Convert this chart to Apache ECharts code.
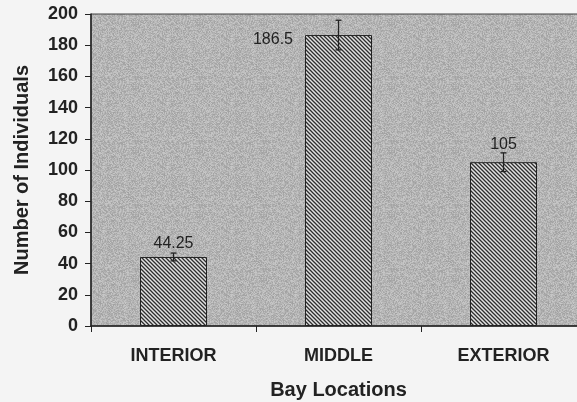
<!DOCTYPE html>
<html>
<head>
<meta charset="utf-8">
<script src="https://cdn.jsdelivr.net/npm/echarts@6/dist/echarts.min.js"></script>
<style>
html,body{margin:0;padding:0;background:#f4f4f4;}
#c{width:577px;height:402px;}
</style>
</head>
<body>
<div id="c"></div>
<script>
var categories = ['INTERIOR', 'MIDDLE', 'EXTERIOR'];
var means = [44.25, 186.5, 105];
var errors = [2.5, 9.5, 6];
var valueLabels = ['44.25', '186.5', '105'];
var yTicks = [0, 20, 40, 60, 80, 100, 120, 140, 160, 180, 200];

function hatch() {
  var s = 4;
  var c = document.createElement('canvas');
  c.width = s; c.height = s;
  var g = c.getContext('2d');
  g.fillStyle = '#e2e2e2';
  g.fillRect(0, 0, s, s);
  g.strokeStyle = '#2e2e2e';
  g.lineWidth = 1.3;
  g.beginPath();
  g.moveTo(-2, -2); g.lineTo(s + 2, s + 2);
  g.moveTo(-2, s - 2); g.lineTo(2, s + 2);
  g.moveTo(s - 2, -2); g.lineTo(s + 2, 2);
  g.stroke();
  return c;
}

// deterministic speckle texture for the plot background (style only)
function speckle() {
  var s = 64;
  var c = document.createElement('canvas');
  c.width = s; c.height = s;
  var g = c.getContext('2d');
  var img = g.createImageData(s, s);
  for (var y = 0; y < s; y++) {
    for (var x = 0; x < s; x++) {
      var h = Math.sin(x * 12.9898 + y * 78.233) * 43758.5453;
      h = h - Math.floor(h);
      var v = Math.round(180 + (h - 0.5) * 40);
      var k = (y * s + x) * 4;
      img.data[k] = v; img.data[k + 1] = v; img.data[k + 2] = v; img.data[k + 3] = 255;
    }
  }
  g.putImageData(img, 0, 0);
  return c;
}

var chart = echarts.init(document.getElementById('c'), null, {renderer: 'canvas'});
var font = 'Liberation Sans, Arial, sans-serif';

var barData = means.map(function (v, i) {
  var lab = {show: true, formatter: valueLabels[i]};
  if (i === 1) {
    lab.position = [-12, 5];
    lab.align = 'right';
    lab.verticalAlign = 'middle';
  } else {
    lab.position = 'top';
    lab.distance = i === 0 ? 5 : 10;
  }
  return {value: v, label: lab};
});

var errData = means.map(function (v, i) { return [i, v - errors[i], v + errors[i]]; });

chart.setOption({
  backgroundColor: '#f4f4f4',
  animation: false,
  grid: {
    left: 91, top: 14, width: 495, bottom: 76,
    outerBoundsMode: 'none',
    containLabel: false,
    show: true, backgroundColor: {image: speckle(), repeat: 'repeat'}, borderColor: '#444', borderWidth: 1
  },
  xAxis: {
    type: 'category',
    data: categories,
    name: 'Bay Locations',
    nameLocation: 'middle',
    nameGap: 54,
    nameTextStyle: {fontFamily: font, fontWeight: 'bold', fontSize: 20, color: '#222'},
    axisLine: {lineStyle: {color: '#222', width: 1.5}},
    axisTick: {show: true, length: 6, lineStyle: {color: '#222'}},
    axisLabel: {fontFamily: font, fontWeight: 'bold', fontSize: 18, color: '#222', margin: 21}
  },
  yAxis: {
    type: 'value',
    min: 0, max: 200, interval: 20,
    name: 'Number of Individuals',
    nameLocation: 'middle',
    nameGap: 59,
    nameTextStyle: {fontFamily: font, fontWeight: 'bold', fontSize: 20, color: '#222'},
    axisLine: {show: true, lineStyle: {color: '#222', width: 1.5}},
    axisTick: {show: true, length: 6, lineStyle: {color: '#222'}},
    splitLine: {show: false},
    axisLabel: {
      fontFamily: font, fontWeight: 'bold', fontSize: 18, color: '#222', margin: 13,
      formatter: function (v) { return yTicks.indexOf(v) >= 0 ? String(v) : ''; }
    }
  },
  series: [
    {
      type: 'bar',
      data: barData,
      barWidth: 67,
      itemStyle: {color: {image: hatch(), repeat: 'repeat'}, borderColor: '#222', borderWidth: 1},
      label: {fontFamily: font, fontSize: 16, color: '#222'}
    },
    {
      type: 'custom',
      data: errData,
      z: 10,
      renderItem: function (params, api) {
        var lo = api.coord([api.value(0), api.value(1)]);
        var hi = api.coord([api.value(0), api.value(2)]);
        var w = 3;
        var st = {stroke: '#222', lineWidth: 1.3};
        return {
          type: 'group',
          children: [
            {type: 'line', shape: {x1: hi[0], y1: hi[1], x2: lo[0], y2: lo[1]}, style: st},
            {type: 'line', shape: {x1: hi[0] - w, y1: hi[1], x2: hi[0] + w, y2: hi[1]}, style: st},
            {type: 'line', shape: {x1: lo[0] - w, y1: lo[1], x2: lo[0] + w, y2: lo[1]}, style: st}
          ]
        };
      }
    }
  ]
});
</script>
</body>
</html>
